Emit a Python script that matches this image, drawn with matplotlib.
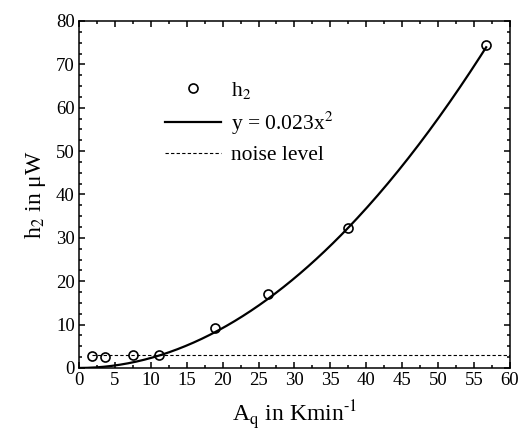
import numpy as np
import matplotlib
matplotlib.use("Agg")
import matplotlib.pyplot as plt

plt.rcParams['font.family'] = ['Liberation Serif', 'DejaVu Serif']
plt.rcParams['mathtext.fontset'] = 'stix'

# measured points
aq = [1.8, 3.6, 7.5, 11.2, 18.9, 26.3, 37.5, 56.7]
h2 = [2.8, 2.5, 2.9, 3.0, 9.2, 17.0, 32.3, 74.5]

# fit y = a x^2 and noise level
fit_a = 0.023
fit_xmax = 56.7
noise = 3.0
noise_x = [1.8, 60]

fig = plt.figure(figsize=(5.21, 4.37), dpi=100)
ax = fig.add_axes([0.1516, 0.158, 0.827, 0.794])

xf = np.linspace(0, fit_xmax, 200)
ax.plot(aq, h2, 'o', mfc='none', mec='black', ms=6.5, mew=1.2, label='h$_2$')
ax.plot(xf, fit_a * xf**2, '-', color='black', lw=1.6, label='y = 0.023x$^2$')
ax.plot(noise_x, [noise, noise], '--', color='black', lw=0.8, dashes=(3, 2),
        label='noise level')

ax.set_xlim(0, 60)
ax.set_ylim(0, 80)
ax.set_xticks(np.arange(0, 61, 5))
ax.set_yticks(np.arange(0, 81, 10))
ax.set_xticks(np.arange(0, 60.1, 2.5), minor=True)
ax.set_yticks(np.arange(0, 80.1, 2.5), minor=True)
ax.tick_params(which='both', direction='in', top=True, right=True,
               labelsize=13.5, width=1.1)
ax.tick_params(which='major', length=4.5, pad=3)
ax.tick_params(which='minor', length=2.5)
for s in ax.spines.values():
    s.set_linewidth(1.1)

ax.set_xlabel('A$_\\mathrm{q}$ in Kmin$^{\\text{-1}}$', fontsize=17, labelpad=7)
ax.set_ylabel('h$_2$ in μW', fontsize=17, labelpad=6)

ax.legend(loc='upper left', bbox_to_anchor=(0.18, 0.855), frameon=False,
          fontsize=15.5, handlelength=2.6, handletextpad=0.45,
          labelspacing=0.4, borderaxespad=0)

fig.savefig('out.png', dpi=100)
